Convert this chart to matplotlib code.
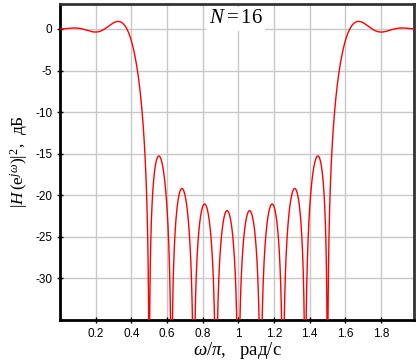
import numpy as np
import matplotlib
matplotlib.use("Agg")
import matplotlib.pyplot as plt

# Filter spec: N = 16 frequency samples (1 = pass, 0 = stop)
N = 16
samples = [1, 1, 1, 1, 0, 0, 0, 0, 0, 0, 0, 0, 0, 1, 1, 1]
xticks = [0.2, 0.4, 0.6, 0.8, 1.0, 1.2, 1.4, 1.6, 1.8]
xticklabels = ["0.2", "0.4", "0.6", "0.8", "1", "1.2", "1.4", "1.6", "1.8"]
yticks = [0, -5, -10, -15, -20, -25, -30]
yticklabels = ["0", "-5", "-10", "-15", "-20", "-25", "-30"]

# frequency-sampling design (linear phase, type II)
Hk = np.zeros(N, dtype=complex)
for k in range(N // 2):
    Hk[k] = samples[k] * np.exp(-1j * np.pi * k * (N - 1) / N)
for k in range(1, N // 2):
    Hk[N - k] = np.conj(Hk[k])
h = np.real(np.fft.ifft(Hk))

w = np.linspace(0, 2, 6000)
n = np.arange(N)
H = np.exp(-1j * np.pi * np.outer(w, n)) @ h
db = 10 * np.log10(np.abs(H) ** 2 + 1e-12)

plt.rcParams['mathtext.fontset'] = 'custom'
plt.rcParams['mathtext.rm'] = 'Liberation Serif'
plt.rcParams['mathtext.it'] = 'Liberation Serif:italic'

fig = plt.figure(figsize=(4.2, 3.6), dpi=100)
ax = fig.add_axes([60 / 420, 40 / 360, 354 / 420, 316 / 360])
ax.plot(w, db, color='#ff0000', lw=1.0, zorder=3)
ax.set_xlim(0, 1.985)
ax.set_ylim(-35, 3)
ax.set_xticks(xticks)
ax.set_xticklabels(xticklabels)
ax.set_yticks(yticks)
ax.set_yticklabels(yticklabels)
ax.grid(True, color='#c8c8c8', lw=1.0)
ax.set_axisbelow(True)
ax.tick_params(direction='inout', length=5, width=1, colors='black',
               labelsize=8.5, pad=3)
for lab in ax.get_xticklabels() + ax.get_yticklabels():
    lab.set_family('Liberation Sans')
for s in ['left', 'bottom']:
    ax.spines[s].set_linewidth(2)
    ax.spines[s].set_color('black')
for s in ['top', 'right']:
    ax.spines[s].set_linewidth(2)
    ax.spines[s].set_color('#333333')

ax.set_xlabel(r"$\omega/\pi$,   рад/с", family='Liberation Serif', fontsize=13.5, labelpad=0)
ax.set_ylabel(r"$|H\,(\mathrm{e}^{j\omega})|^2$,  дБ", family='Liberation Serif', fontsize=12.5, labelpad=4)

ax.text(0.985, 1.2, r"$N = \mathrm{16}$", fontsize=15, ha='center', va='center',
        family='Liberation Serif',
        bbox=dict(facecolor='white', edgecolor='none', pad=2), zorder=4)

fig.savefig("out.png", dpi=100)
